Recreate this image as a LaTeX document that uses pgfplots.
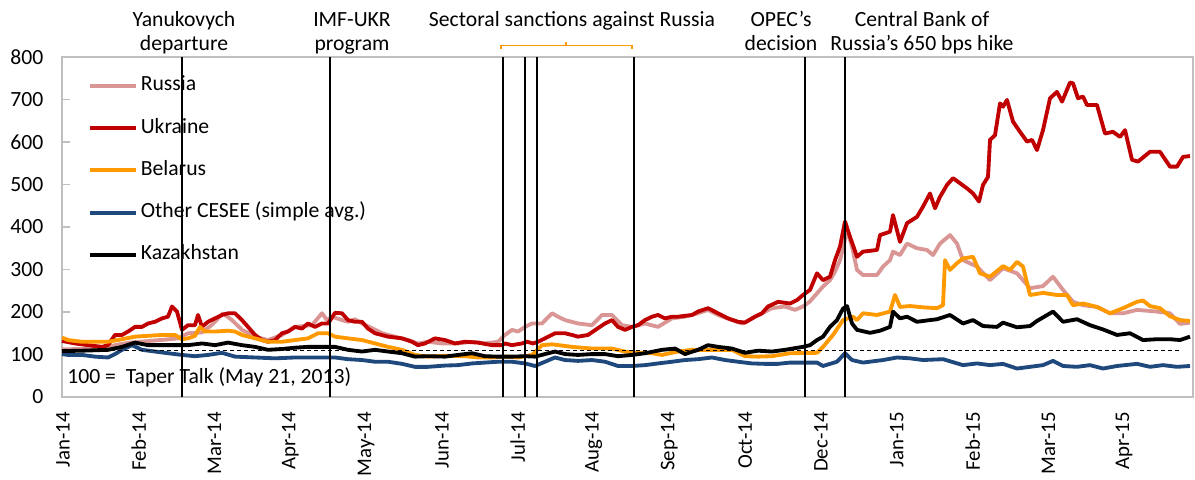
\documentclass[border=0pt]{standalone}
\usepackage{fontspec}
\setmainfont{Carlito}
\usepackage{pgfplots}
\pgfplotsset{compat=1.18}
\definecolor{cRus}{HTML}{D99694}
\definecolor{cUkr}{HTML}{C00000}
\definecolor{cBel}{HTML}{FF9900}
\definecolor{cOth}{HTML}{1F497D}
\definecolor{cFrame}{HTML}{BFBFBF}
\begin{document}
\fontsize{13}{15.5}\selectfont
\begin{tikzpicture}
\begin{axis}[
 at={(0,0)}, anchor=south west, scale only axis,
 width=678.6pt, height=204pt,
 xmin=62, xmax=1193, ymin=0, ymax=800,
 ytick={0,100,...,800},
 xtick={63,138.8,214.6,290.4,366.2,442,517.8,593.6,669.4,745.2,821,896.8,972.6,1048.4,1124.2},
 xticklabels={Jan-14,Feb-14,Mar-14,Apr-14,May-14,Jun-14,Jul-14,Aug-14,Sep-14,Oct-14,Dec-14,Jan-15,Feb-15,Mar-15,Apr-15},
 xtick style={draw=none},
 ytick pos=left, tick align=inside, major tick length=4.8pt,
 ytick style={draw=cFrame, line width=0.8pt},
 xticklabel style={rotate=90, anchor=east, inner sep=0pt, font=\fontsize{12.5}{15}\selectfont},
 xticklabel shift=9pt,
 yticklabel style={anchor=east, inner sep=0pt, font=\fontsize{13}{15.5}\selectfont},
 yticklabel shift=11pt,
 /pgf/number format/assume math mode=true,
 axis line style={draw=cFrame, line width=1pt},
 clip=false,
 legend style={at={(rel axis cs:0,1)}, anchor=north west, xshift=15.6pt, yshift=-10.6pt,
   draw=none, fill=none, inner sep=0pt, row sep=12.35pt, column sep=1.6pt,
   nodes={inner sep=0pt, text height=9.5pt, text depth=3.5pt, font=\fontsize{13}{15.5}\selectfont}},
 legend cell align=left,
 legend image code/.code={\draw[#1] (0pt,0pt) -- (27.6pt,0pt);},
 every axis plot/.append style={line width=2.3pt, line join=round},
]
\addplot[cRus] coordinates {(62,112) (80,113) (100,112) (115,122) (130,128) (150,132) (165,135) (178,138) (188,150) (202,152) (212,170) (223,197) (232,181) (242,158) (255,142) (268,134) (282,146) (295,165) (312,169) (322,197) (327,181) (332,189) (342,181) (348,177) (355,183) (362,173) (372,162) (382,150) (395,142) (408,134) (418,126) (428,130) (442,126) (458,126) (472,130) (485,126) (498,130) (505,146) (512,158) (518,154) (525,165) (532,173) (542,173) (552,197) (558,189) (565,181) (578,173) (592,169) (602,193) (612,193) (622,169) (632,165) (645,173) (658,165) (672,185) (685,189) (698,197) (708,205) (718,193) (732,181) (742,173) (752,185) (762,197) (772,209) (785,213) (795,205) (803,213) (810,225) (817,244) (823,260) (830,275) (835,295) (840,322) (844,360) (847,393) (852,354) (857,299) (863,287) (877,287) (883,307) (890,322) (893,342) (900,334) (907,361) (917,350) (927,346) (933,334) (940,361) (950,381) (957,361) (963,322) (977,307) (990,275) (1003,303) (1017,291) (1030,256) (1043,261) (1053,283) (1063,252) (1073,224) (1083,216) (1097,212) (1110,197) (1123,197) (1137,205) (1157,201) (1170,197) (1180,172) (1190,175)};
\addlegendentry{Russia}
\addplot[cUkr] coordinates {(62,132) (75,126) (88,122) (102,118) (108,122) (115,146) (122,146) (128,154) (135,165) (142,165) (148,173) (155,177) (162,185) (168,189) (172,213) (177,201) (182,158) (188,169) (195,169) (198,193) (202,165) (208,177) (215,185) (222,193) (228,197) (235,197) (242,181) (248,165) (255,146) (262,134) (268,130) (275,134) (282,150) (288,154) (295,165) (302,161) (308,173) (315,165) (322,173) (328,173) (335,198) (342,197) (348,181) (355,177) (362,177) (368,161) (375,150) (388,142) (402,138) (412,130) (418,122) (425,126) (435,138) (445,134) (455,126) (465,130) (478,128) (492,122) (502,122) (505,126) (512,122) (522,126) (527,130) (533,126) (538,130) (545,138) (555,150) (565,150) (572,146) (578,142) (588,146) (598,162) (605,173) (612,181) (618,165) (625,158) (632,165) (638,169) (645,181) (652,189) (658,193) (665,185) (672,189) (678,189) (692,193) (698,201) (708,209) (718,197) (728,185) (738,177) (745,175) (755,189) (762,197) (768,213) (778,224) (790,220) (797,228) (803,240) (810,252) (817,291) (823,275) (830,283) (835,322) (840,354) (845,413) (850,377) (857,330) (863,342) (877,346) (880,381) (890,389) (893,428) (900,365) (907,409) (917,424) (923,448) (930,479) (935,444) (940,471) (947,499) (953,515) (960,503) (967,491) (973,479) (979,460) (983,499) (988,518) (990,605) (995,616) (1000,691) (1003,683) (1007,699) (1013,648) (1020,624) (1027,601) (1032,605) (1037,581) (1043,628) (1050,703) (1057,718) (1062,695) (1070,740) (1073,738) (1078,703) (1083,707) (1087,687) (1097,687) (1105,620) (1113,624) (1120,612) (1125,628) (1132,558) (1138,554) (1150,577) (1160,577) (1170,542) (1177,542) (1183,565) (1190,567)};
\addlegendentry{Ukraine}
\addplot[cBel] coordinates {(62,140) (68,134) (82,130) (95,130) (108,130) (122,136) (135,142) (148,144) (162,146) (175,146) (182,136) (188,138) (195,144) (200,165) (205,154) (215,154) (228,156) (235,154) (242,146) (255,138) (268,130) (282,130) (295,134) (308,138) (318,150) (328,150) (335,142) (348,138) (362,134) (375,126) (388,118) (402,111) (415,99) (428,95) (445,97) (465,96) (478,93) (492,93) (505,95) (518,93) (532,99) (542,122) (552,124) (572,118) (592,114) (612,114) (625,107) (638,104) (652,103) (662,99) (678,107) (692,111) (712,111) (732,111) (745,96) (758,95) (772,96) (790,103) (817,104) (823,118) (833,146) (843,181) (853,189) (857,181) (863,197) (877,193) (890,201) (895,240) (900,212) (910,214) (923,211) (937,209) (943,216) (945,322) (950,299) (957,315) (963,326) (973,330) (980,291) (990,283) (1003,308) (1010,299) (1017,318) (1023,307) (1030,240) (1043,245) (1057,240) (1067,240) (1073,216) (1083,220) (1097,212) (1110,197) (1123,209) (1137,224) (1143,227) (1150,214) (1160,209) (1170,190) (1180,181) (1190,179)};
\addlegendentry{Belarus}
\addplot[cOth] coordinates {(62,101) (68,99) (82,99) (95,95) (108,93) (115,101) (122,111) (132,122) (142,111) (155,107) (168,103) (182,99) (195,96) (208,99) (222,104) (235,95) (255,93) (275,91) (295,93) (315,93) (335,93) (348,89) (362,87) (375,83) (388,83) (402,78) (415,71) (428,71) (445,74) (458,75) (472,79) (485,81) (498,83) (512,83) (525,79) (535,73) (545,83) (555,93) (565,87) (578,85) (592,87) (605,83) (618,73) (632,73) (645,75) (658,79) (672,83) (685,87) (698,89) (712,93) (725,87) (738,83) (752,79) (765,78) (778,78) (790,81) (817,81) (823,73) (837,83) (845,103) (852,87) (863,81) (883,87) (897,93) (910,91) (923,87) (943,89) (963,75) (977,79) (990,75) (1003,78) (1017,67) (1030,71) (1043,75) (1053,85) (1063,73) (1077,71) (1090,75) (1103,67) (1117,73) (1137,78) (1150,71) (1163,75) (1177,71) (1190,73)};
\addlegendentry{Other CESEE (simple avg.)}
\addplot[black] coordinates {(62,108) (82,109) (108,111) (122,118) (135,128) (148,122) (162,122) (175,122) (188,122) (202,126) (215,122) (228,128) (242,122) (255,118) (268,111) (282,113) (295,116) (308,118) (322,118) (335,118) (348,111) (362,107) (375,111) (388,107) (402,103) (415,95) (428,96) (445,95) (458,99) (472,103) (485,96) (498,95) (512,95) (525,96) (535,95) (545,101) (555,107) (565,101) (578,99) (592,101) (605,101) (618,96) (632,99) (645,103) (662,111) (675,114) (685,101) (698,111) (708,122) (718,118) (732,114) (745,104) (758,109) (772,107) (785,111) (795,115) (803,118) (810,122) (817,134) (823,142) (830,165) (837,181) (843,208) (847,214) (852,173) (857,158) (870,151) (880,156) (890,165) (893,201) (900,185) (907,189) (917,177) (930,181) (937,183) (950,193) (963,173) (973,181) (983,167) (997,165) (1003,175) (1017,164) (1030,167) (1037,179) (1053,201) (1063,177) (1077,183) (1090,169) (1103,159) (1117,146) (1130,150) (1143,134) (1157,136) (1170,136) (1180,134) (1190,142)};
\addlegendentry{Kazakhstan}
% reference line and event lines
\addplot[black, line width=0.6pt, dash pattern=on 2.4pt off 1.8pt, forget plot] coordinates {(62,110) (1180,110)};
\addplot[black, line width=0.8pt, forget plot] coordinates {(182,0) (182,800)};
\addplot[black, line width=0.8pt, forget plot] coordinates {(330,0) (330,800)};
\addplot[black, line width=0.8pt, forget plot] coordinates {(503,0) (503,800)};
\addplot[black, line width=0.8pt, forget plot] coordinates {(525,0) (525,800)};
\addplot[black, line width=0.8pt, forget plot] coordinates {(537,0) (537,800)};
\addplot[black, line width=0.8pt, forget plot] coordinates {(634,0) (634,800)};
\addplot[black, line width=0.8pt, forget plot] coordinates {(805,0) (805,800)};
\addplot[black, line width=0.8pt, forget plot] coordinates {(845,0) (845,800)};
\draw[cBel, line width=0.75pt] (axis cs:501,820) -- (axis cs:501,827) -- (axis cs:632,827) -- (axis cs:632,820);
\draw[cBel, line width=0.75pt] (axis cs:566,827) -- (axis cs:566,836);
\node[anchor=base] at (axis cs:184,872) {Yanukovych};
\node[anchor=base] at (axis cs:184,815) {departure};
\node[anchor=base] at (axis cs:352,872) {IMF-UKR};
\node[anchor=base] at (axis cs:352,815) {program};
\node[anchor=base] at (axis cs:572,872) {Sectoral sanctions against Russia};
\node[anchor=base] at (axis cs:781,872) {OPEC's};
\node[anchor=base] at (axis cs:781,815) {decision};
\node[anchor=base] at (axis cs:922,872) {Central Bank of};
\node[anchor=base] at (axis cs:922,815) {Russia's 650 bps hike};
\node[anchor=base west, inner sep=0pt] at (axis cs:67,31) {100 =\ \ Taper Talk (May 21, 2013)};
\end{axis}
\pgfresetboundingbox
\path[use as bounding box] (-37.2pt,-49.2pt) rectangle (679.8pt,238.2pt);
\end{tikzpicture}
\end{document}
